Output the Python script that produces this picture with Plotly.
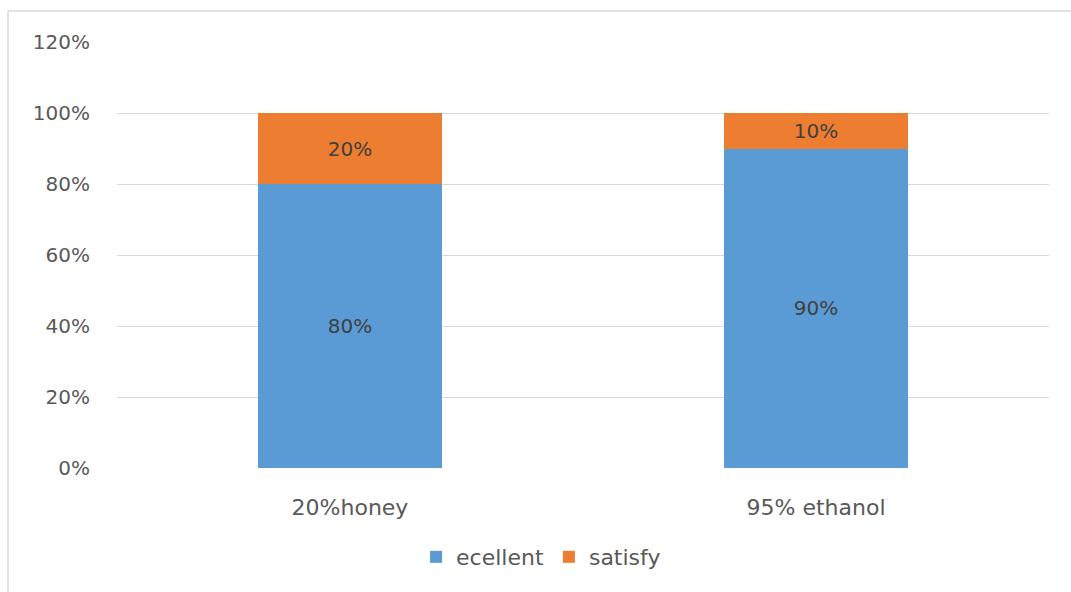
import plotly.graph_objects as go

categories = ["20%honey", "95% ethanol"]
excellent = [0.80, 0.90]
satisfy = [0.20, 0.10]
y_ticks = [0, 0.2, 0.4, 0.6, 0.8, 1.0, 1.2]

FONT = "DejaVu Sans"
TEXT_GRAY = "#595959"
LABEL_GRAY = "#404040"

fig = go.Figure()
fig.add_trace(go.Bar(
    name="ecellent", x=categories, y=excellent,
    marker=dict(color="#5B9BD5", line=dict(width=0)),
    text=[f"{v:.0%}" for v in excellent], textposition="inside",
    insidetextanchor="middle",
    textfont=dict(color=LABEL_GRAY, size=20, family=FONT),
))
fig.add_trace(go.Bar(
    name="satisfy", x=categories, y=satisfy,
    marker=dict(color="#ED7D31", line=dict(width=0)),
    text=[f"{v:.0%}" for v in satisfy], textposition="inside",
    insidetextanchor="middle",
    textfont=dict(color=LABEL_GRAY, size=20, family=FONT),
))

fig.update_layout(
    barmode="stack",
    bargap=0.605,
    width=1071, height=592,
    margin=dict(l=117, r=22, t=42, b=124),
    paper_bgcolor="white", plot_bgcolor="white",
    font=dict(family=FONT, color=TEXT_GRAY, size=20),
    uniformtext=dict(mode="show", minsize=20),
    legend=dict(
        orientation="h", x=0.455, xanchor="center", y=-0.209, yanchor="middle",
        font=dict(size=22, color=TEXT_GRAY, family=FONT), itemwidth=30,
        traceorder="normal",
    ),
    showlegend=True,
    xaxis=dict(
        showgrid=False, zeroline=False, showline=False,
        ticks="outside", ticklen=20, tickcolor="rgba(0,0,0,0)",
        tickfont=dict(size=22, color=TEXT_GRAY, family=FONT),
    ),
    yaxis=dict(
        range=[0, 1.2], tickvals=y_ticks, tickformat=".0%",
        showgrid=True, gridcolor="#D9D9D9", gridwidth=1,
        zeroline=False, showline=False,
        ticklabelstandoff=26,
        tickfont=dict(size=20, color=TEXT_GRAY, family=FONT),
    ),
    shapes=[
        dict(type="line", xref="paper", yref="paper",
             x0=-109 / 932, x1=1.03, y0=(468 - 11) / 426, y1=(468 - 11) / 426,
             line=dict(color="#D9D9D9", width=1.5)),
        dict(type="line", xref="paper", yref="paper",
             x0=-109 / 932, x1=-109 / 932, y0=(468 - 11) / 426, y1=-0.3,
             line=dict(color="#D9D9D9", width=1.5)),
    ],
)

fig.write_html("out.html")
